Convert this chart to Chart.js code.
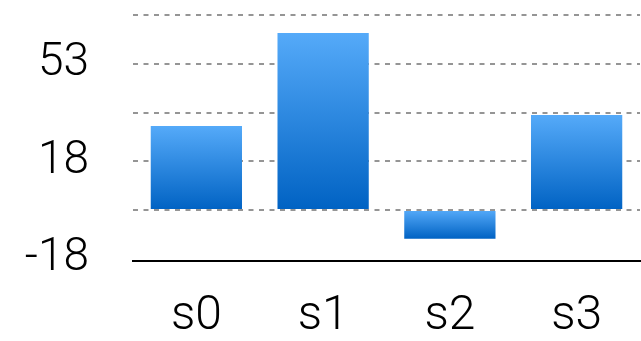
<!DOCTYPE html>
<html>
<head>
<meta charset="utf-8">
<script src="https://cdn.jsdelivr.net/npm/chart.js@4/dist/chart.umd.min.js"></script>
<style>
  html, body { margin: 0; padding: 0; background: #ffffff; }
  #wrap { width: 641px; height: 341px; }
</style>
</head>
<body>
<div id="wrap"><canvas id="c" width="641" height="341"></canvas></div>
<script>
// Categories and series values
const categories = ['s0', 's1', 's2', 's3'];
const values = [30.5, 64.3, -10.4, 34.5];

// Value axis range and grid lines (labels on every other line)
const yMin = -18.5;
const yMax = 70.8;
const yTicks = [-17.7, 0, 17.7, 35.4, 53.1, 70.8];

const FONT = 'Roboto, "Liberation Sans", sans-serif';

function barGradient(ctx) {
  const chart = ctx.chart;
  const area = chart.chartArea;
  if (!area || ctx.dataIndex === undefined) return '#2a86e0';
  const y = chart.scales.y;
  const v = values[ctx.dataIndex];
  const p0 = y.getPixelForValue(0);
  const p1 = y.getPixelForValue(v);
  const top = Math.min(p0, p1), bottom = Math.max(p0, p1);
  const g = chart.ctx.createLinearGradient(0, top, 0, bottom);
  g.addColorStop(0, '#55aaf9');
  g.addColorStop(1, '#0062c3');
  return g;
}

new Chart(document.getElementById('c'), {
  type: 'bar',
  data: {
    labels: categories,
    datasets: [{
      data: values,
      backgroundColor: barGradient,
      borderWidth: 0,
      barPercentage: 0.72,
      categoryPercentage: 1.0
    }]
  },
  options: {
    responsive: false,
    animation: false,
    devicePixelRatio: 1,
    layout: { padding: { top: 15, right: 1, left: 0, bottom: 0 } },
    plugins: { legend: { display: false }, tooltip: { enabled: false } },
    scales: {
      x: {
        grid: { display: false, drawTicks: false },
        border: { display: true, color: '#000000', width: 2 },
        ticks: {
          color: '#000000',
          padding: 27,
          font: { family: FONT, size: 48, weight: 300 }
        },
        afterFit(scale) { scale.height = 80; }
      },
      y: {
        min: yMin,
        max: yMax,
        border: { display: false, dash: [5, 5.5] },
        grid: {
          color: (c) => (c.index === 0 ? 'rgba(0,0,0,0)' : '#959595'),
          lineWidth: 2,
          drawTicks: false
        },
        ticks: {
          autoSkip: false,
          color: '#000000',
          padding: 44,
          font: { family: FONT, size: 46, weight: 300 },
          callback: (v, i) => (i % 2 === 0 ? String(Math.round(v)) : '')
        },
        afterBuildTicks(scale) {
          scale.ticks = yTicks.map((v) => ({ value: v }));
        },
        afterFit(scale) {
          scale.width = 133;
          scale.paddingTop = 0;
          scale.paddingBottom = 0;
        }
      }
    }
  }
});
</script>
</body>
</html>
